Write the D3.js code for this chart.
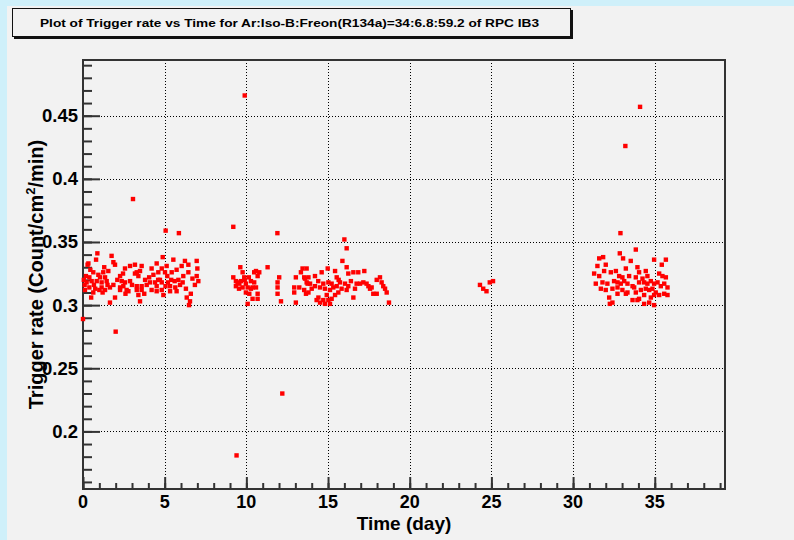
<!DOCTYPE html>
<html>
<head>
<meta charset="utf-8">
<script src="https://cdn.jsdelivr.net/npm/d3@7"></script>
<style>
html,body{margin:0;padding:0;background:#cff0fa;}
svg{display:block;}
text{font-family:"Liberation Sans",Arial,Helvetica,sans-serif;font-weight:bold;fill:#000;}
</style>
</head>
<body>
<svg id="c" width="794" height="540"></svg>
<script>
// ---- data ----
const chartTitle = "Plot of Trigger rate vs Time for Ar:Iso-B:Freon(R134a)=34:6.8:59.2 of RPC IB3";
const xTitle = "Time (day)";
const xTicks = [0, 5, 10, 15, 20, 25, 30, 35];
const yTicks = [0.2, 0.25, 0.3, 0.35, 0.4, 0.45];
const yTickLabels = ["0.2", "0.25", "0.3", "0.35", "0.4", "0.45"];

// run period 1 (day 0 - 7)
const run1 = [
 [0.0,0.289],[2.0,0.279],[3.06,0.384],[5.06,0.359],[5.87,0.357],
 [0.88,0.341],[0.8,0.336],[0.33,0.333],[0.63,0.326],[0.18,0.323],[0.39,0.322],[0.53,0.319],
 [0.22,0.318],[0.67,0.316],[0.39,0.314],[0.12,0.312],[0.63,0.310],[0.84,0.319],[0.94,0.324],
 [1.04,0.322],[1.14,0.318],[1.0,0.312],[1.24,0.326],[1.35,0.322],[1.45,0.319],[1.55,0.327],
 [1.35,0.312],[1.65,0.314],[1.75,0.339],[1.86,0.334],[1.96,0.332],[1.86,0.316],[1.65,0.302],
 [1.96,0.306],[2.27,0.323],[2.37,0.319],[2.47,0.315],[2.27,0.314],[2.57,0.329],
 [2.67,0.312],[2.78,0.311],[2.88,0.331],[3.18,0.332],[3.29,0.326],[3.49,0.327],[3.39,0.323],
 [3.59,0.331],[3.18,0.325],[3.29,0.315],[3.29,0.312],[3.59,0.315],[3.59,0.312],[3.39,0.308],
 [3.49,0.303],[4.1,0.318],[4.2,0.329],[4.31,0.324],[4.41,0.318],[4.51,0.333],[4.61,0.326],
 [4.51,0.315],[4.51,0.311],[4.71,0.320],[4.82,0.329],[4.88,0.338],[4.82,0.318],[4.92,0.308],
 [5.02,0.326],[5.12,0.331],[5.16,0.323],[5.2,0.318],[5.33,0.315],[5.43,0.326],[5.53,0.336],
 [5.61,0.319],[5.73,0.311],[5.73,0.328],[5.84,0.320],[5.94,0.316],[6.04,0.331],[6.14,0.323],
 [6.24,0.335],[6.45,0.332],[6.45,0.326],[6.35,0.306],[6.55,0.303],[6.49,0.300],[6.96,0.335],
 [7.0,0.329],[6.96,0.323],[7.06,0.319],[5.33,0.311],[4.82,0.312],[4.2,0.312],[2.88,0.319],
 [2.57,0.318],[2.27,0.312],[1.14,0.314],[0.28,0.332],[0.05,0.320],[0.1,0.316],[0.45,0.328],
 [0.75,0.313],[1.2,0.310],[1.5,0.316],[2.1,0.320],[2.6,0.309],[3.0,0.316],[3.8,0.320],
 [3.9,0.316],[4.05,0.322],[4.6,0.320],[5.05,0.315],[5.4,0.320],[5.65,0.314],[6.1,0.318],
 [6.3,0.313],[6.7,0.321],[6.85,0.316],[3.75,0.309],[1.3,0.330],[0.5,0.306],[6.6,0.309],
 [2.45,0.325]
];

// run period 2 (day 9 - 19)
const run2 = [
 [9.2,0.362],[9.9,0.466],[9.4,0.181],[11.9,0.357],[12.2,0.230],[16.0,0.352],[16.14,0.345],
 [9.63,0.330],[9.2,0.322],[9.36,0.319],[9.46,0.318],[9.57,0.317],[9.67,0.319],[9.36,0.315],
 [9.77,0.326],[9.87,0.322],[9.77,0.314],[9.97,0.317],[9.97,0.310],[10.08,0.314],[10.18,0.309],
 [10.28,0.313],[10.38,0.305],[10.08,0.301],[10.48,0.326],[10.59,0.327],[10.79,0.326],
 [10.69,0.323],[10.59,0.314],[10.69,0.309],[10.38,0.314],[10.28,0.319],[10.48,0.318],
 [10.69,0.305],[11.3,0.330],[11.91,0.318],[12.01,0.322],[11.91,0.314],[11.91,0.309],
 [12.12,0.303],[13.03,0.322],[12.93,0.314],[12.93,0.310],[13.03,0.302],[13.34,0.326],
 [13.44,0.329],[13.54,0.322],[13.24,0.314],[13.54,0.312],[13.75,0.317],[13.65,0.309],
 [15.88,0.335],[16.14,0.330],[14.98,0.329],[14.61,0.326],[14.2,0.323],[15.43,0.327],
 [15.53,0.322],[16.24,0.325],[16.55,0.326],[16.85,0.326],[17.22,0.327],[13.8,0.322],
 [13.69,0.318],[13.9,0.317],[14.0,0.313],[13.8,0.310],[14.2,0.315],[14.51,0.314],[14.71,0.317],
 [14.81,0.313],[15.02,0.318],[15.22,0.317],[15.12,0.312],[15.32,0.314],[15.53,0.315],
 [15.73,0.318],[15.83,0.313],[16.04,0.317],[16.24,0.315],[16.14,0.312],[15.63,0.310],
 [15.43,0.308],[15.22,0.305],[15.02,0.304],[14.92,0.308],[14.71,0.304],[14.41,0.306],
 [14.3,0.304],[14.51,0.302],[14.81,0.301],[15.12,0.301],[16.55,0.306],[16.75,0.317],
 [16.65,0.313],[16.96,0.317],[17.16,0.318],[17.36,0.317],[17.47,0.315],[17.57,0.313],
 [17.67,0.314],[17.77,0.309],[17.98,0.309],[17.98,0.320],[18.18,0.322],[18.28,0.318],
 [18.38,0.315],[18.49,0.313],[18.59,0.310],[18.73,0.302],[13.69,0.329],[13.59,0.321],
 [9.55,0.313],[9.9,0.320],[10.15,0.322],[14.4,0.319],[15.65,0.320],[16.4,0.319]
];

// run period 3 (day 24 - 25)
const run3 = [
 [24.3,0.316],[24.5,0.313],[24.7,0.311],[24.9,0.318],[25.1,0.319]
];

// run period 4 (day 31 - 36)
const run4 = [
 [33.2,0.426],[34.1,0.457],[32.9,0.357],
 [33.84,0.344],[32.86,0.341],[31.6,0.337],[31.84,0.338],[33.06,0.337],[33.53,0.335],
 [35.68,0.336],[35.43,0.332],[34.96,0.336],[31.49,0.331],[32.0,0.332],[31.9,0.327],
 [31.29,0.325],[31.6,0.323],[32.31,0.326],[32.62,0.327],[33.23,0.329],[33.94,0.330],
 [34.04,0.326],[34.45,0.327],[34.55,0.323],[35.27,0.325],[35.47,0.323],[35.68,0.322],
 [32.82,0.323],[33.02,0.322],[33.43,0.323],[33.84,0.322],[34.25,0.321],[31.39,0.317],
 [31.8,0.318],[32.1,0.317],[32.51,0.319],[32.72,0.318],[32.92,0.317],[33.13,0.319],
 [33.33,0.317],[33.64,0.315],[34.04,0.318],[34.35,0.318],[34.55,0.317],[34.76,0.319],
 [34.96,0.317],[35.17,0.318],[35.37,0.315],[35.58,0.317],[35.78,0.314],[31.7,0.313],
 [32.0,0.312],[32.41,0.313],[32.72,0.314],[33.02,0.312],[33.33,0.310],[33.74,0.314],
 [34.15,0.312],[34.45,0.313],[34.66,0.312],[34.86,0.313],[35.06,0.310],[35.27,0.308],
 [35.58,0.309],[35.78,0.308],[34.76,0.306],[34.96,0.308],[34.35,0.308],[34.04,0.305],
 [33.84,0.310],[33.64,0.304],[33.23,0.309],[32.72,0.309],[32.21,0.306],[34.35,0.301],
 [33.94,0.304],[32.41,0.302],[32.25,0.301],[34.96,0.300],[34.66,0.302]
];

// ---- drawing ----
const svg = d3.select("#c");
const W = 794, H = 540;
const m = {left: 83, right: 725, top: 60, bottom: 489};

// canvas
svg.append("rect").attr("x", 0).attr("y", 0).attr("width", W).attr("height", H).attr("fill", "#cff0fa");
svg.append("rect").attr("x", 7).attr("y", 6).attr("width", W - 7).attr("height", H - 6).attr("fill", "#f2f2f2");

const x = d3.scaleLinear().domain([0, 39.3]).range([m.left, m.right]);
const y = d3.scaleLinear().domain([0.1544, 0.4941]).range([m.bottom, m.top]);

// grid (dotted)
const grid = svg.append("g").attr("stroke", "#000").attr("stroke-width", 1)
  .attr("stroke-dasharray", "1,2").attr("shape-rendering", "crispEdges");
grid.selectAll("line.gx").data(xTicks.filter(d => d > 0)).join("line")
  .attr("x1", d => Math.round(x(d)) + 0.5).attr("x2", d => Math.round(x(d)) + 0.5)
  .attr("y1", m.top).attr("y2", m.bottom);
grid.selectAll("line.gy").data(yTicks).join("line")
  .attr("y1", d => Math.round(y(d)) + 0.5).attr("y2", d => Math.round(y(d)) + 0.5)
  .attr("x1", m.left).attr("x2", m.right);

// frame
svg.append("rect").attr("x", m.left).attr("y", m.top)
  .attr("width", m.right - m.left).attr("height", m.bottom - m.top)
  .attr("fill", "none").attr("stroke", "#333").attr("stroke-width", 2);

// axes via d3
const xMinor = d3.range(0, 40, 1);
const yMinor = d3.range(16, 50, 1).map(d => d / 100);

const xAxisMinor = d3.axisTop(x).tickValues(xMinor).tickSize(6).tickFormat("");
const xAxisMajor = d3.axisTop(x).tickValues(xTicks).tickSize(12).tickFormat("");
const gx1 = svg.append("g").attr("transform", `translate(0,${m.bottom})`).call(xAxisMinor);
const gx2 = svg.append("g").attr("transform", `translate(0,${m.bottom})`).call(xAxisMajor);
[gx1, gx2].forEach(g => {
  g.select(".domain").remove();
  g.selectAll("line").attr("stroke", "#333").attr("stroke-width", 2);
});

const yAxisMinor = d3.axisRight(y).tickValues(yMinor).tickSize(9).tickFormat("");
const yAxisMajor = d3.axisRight(y).tickValues(yTicks).tickSize(17).tickFormat("");
const gy1 = svg.append("g").attr("transform", `translate(${m.left},0)`).call(yAxisMinor);
const gy2 = svg.append("g").attr("transform", `translate(${m.left},0)`).call(yAxisMajor);
[gy1, gy2].forEach(g => {
  g.select(".domain").remove();
  g.selectAll("line").attr("stroke", "#333").attr("stroke-width", 2);
});

// tick labels
svg.append("g").selectAll("text").data(xTicks).join("text")
  .attr("x", d => x(d)).attr("y", 508).attr("text-anchor", "middle")
  .attr("font-size", 18).text(d => d);
svg.append("g").selectAll("text").data(yTicks).join("text")
  .attr("x", 78).attr("y", d => y(d) + 6.5).attr("text-anchor", "end")
  .attr("font-size", 18.5).text((d, i) => yTickLabels[i]);

// axis titles
svg.append("text").attr("x", (m.left + m.right) / 2).attr("y", 530)
  .attr("text-anchor", "middle").attr("font-size", 19).text(xTitle);

const yt = svg.append("text").attr("transform", `translate(43,${(m.top + m.bottom) / 2}) rotate(-90)`)
  .attr("text-anchor", "middle").attr("font-size", 20);
yt.append("tspan").text("Trigger rate (Count/cm");
yt.append("tspan").attr("font-size", 13).attr("dy", -8).text("2");
yt.append("tspan").attr("dy", 8).text("/min)");

// points
const allRuns = [run1, run2, run3, run4];
const pts = svg.append("g");
allRuns.forEach(run => {
  pts.selectAll(null).data(run).join("rect")
    .attr("x", d => x(d[0]) - 2.2).attr("y", d => y(d[1]) - 2.2)
    .attr("width", 4.4).attr("height", 4.4).attr("fill", "#ff0000");
});

// title box with shadow
svg.append("rect").attr("x", 14).attr("y", 10).attr("width", 559).attr("height", 29).attr("fill", "#111");
svg.append("rect").attr("x", 12.5).attr("y", 8.5).attr("width", 558).attr("height", 28)
  .attr("fill", "#f2f2f2").attr("stroke", "#111").attr("stroke-width", 1);
svg.append("text").attr("x", 40).attr("y", 27).attr("font-size", 11.5)
  .attr("textLength", 499).attr("lengthAdjust", "spacingAndGlyphs").text(chartTitle);
</script>
</body>
</html>
